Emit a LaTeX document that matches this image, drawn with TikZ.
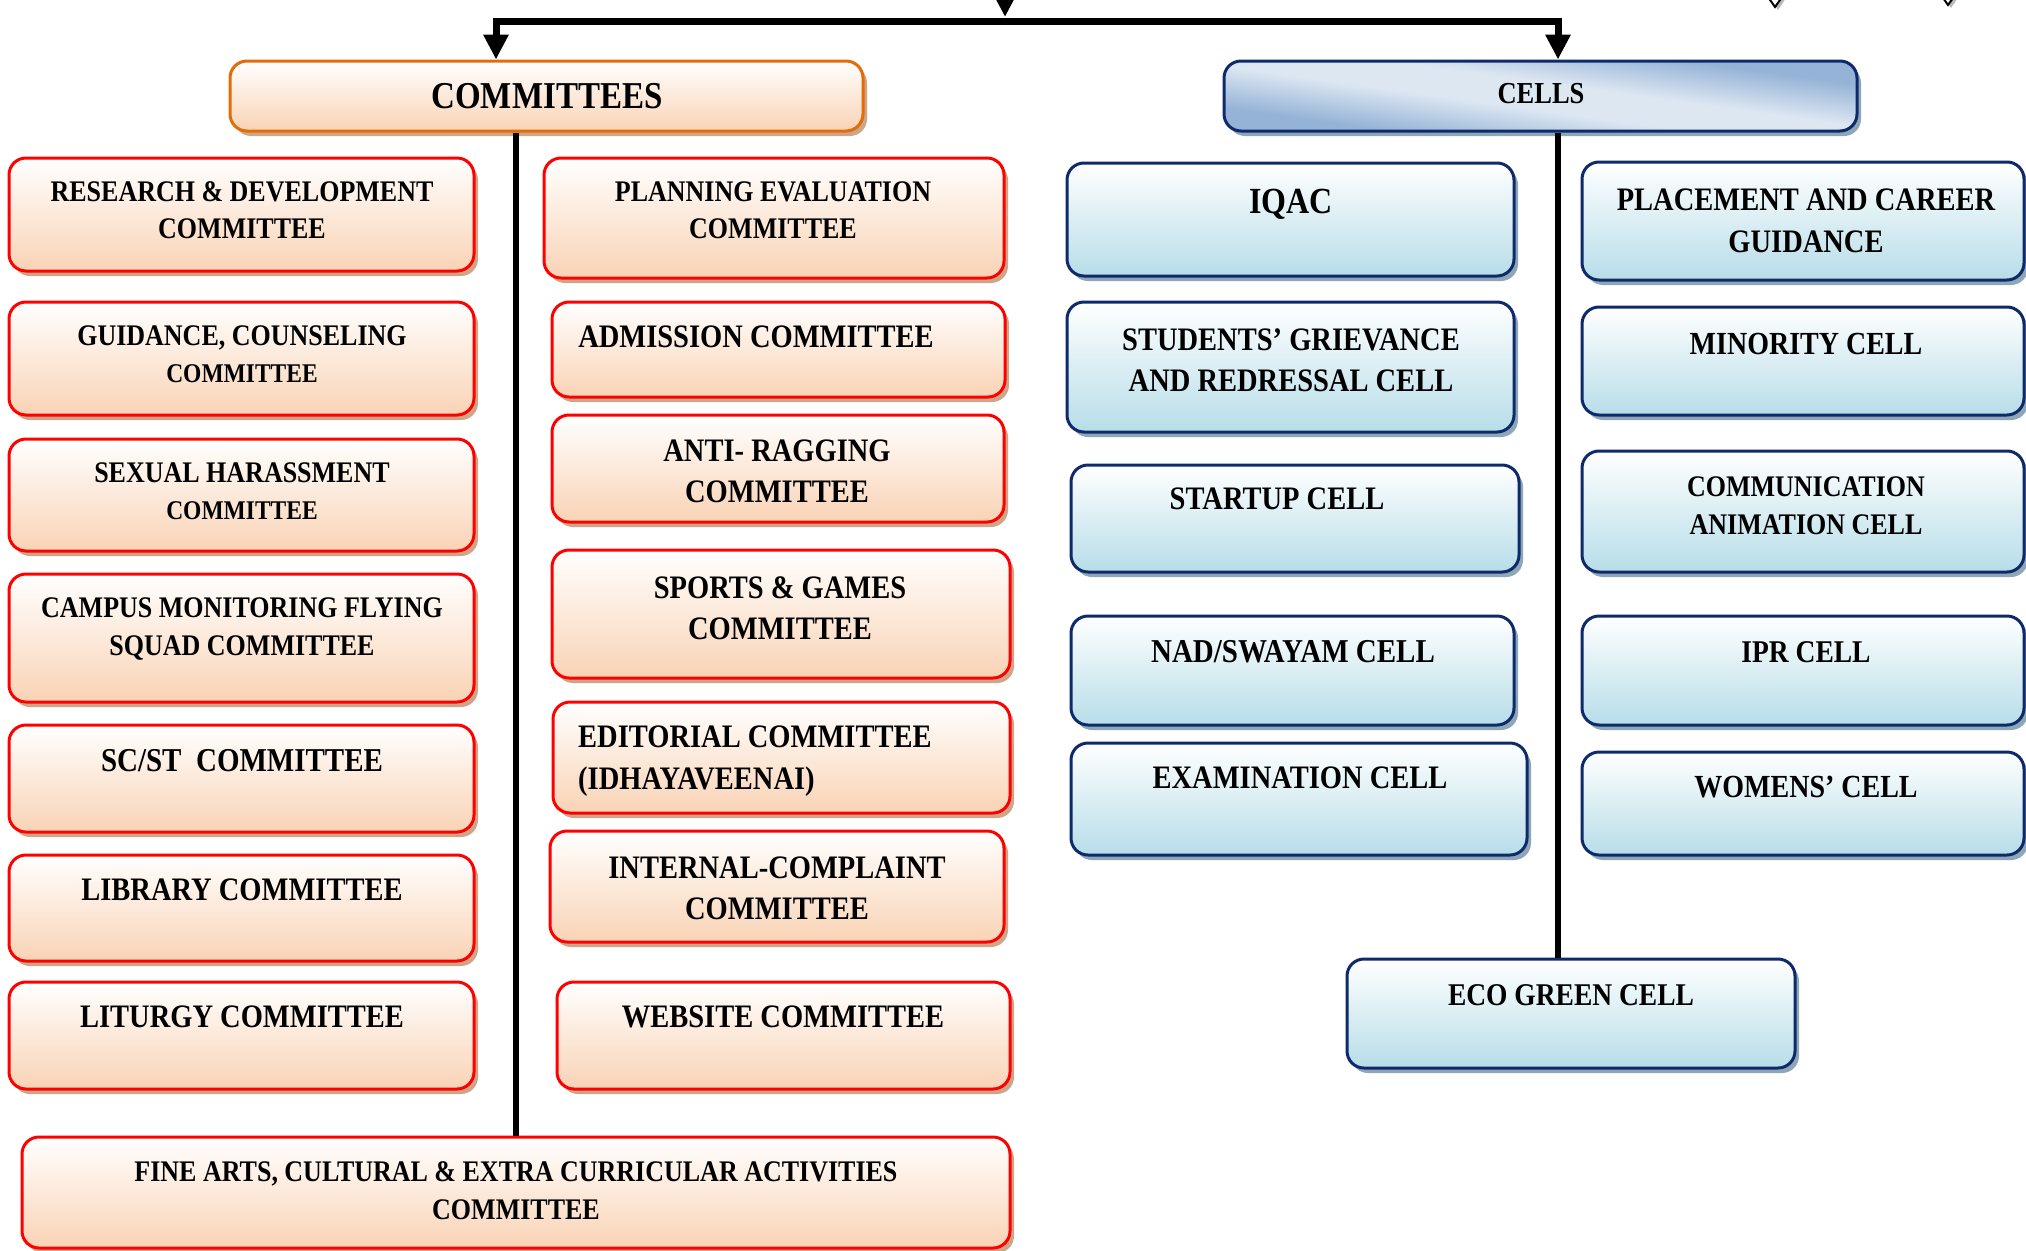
\documentclass[tikz,border=0pt]{standalone}
\usepackage{fontspec}
\setmainfont{Liberation Serif}
\usepackage{graphicx}
\usetikzlibrary{arrows.meta,shadows}
\definecolor{peach}{HTML}{F9D3B5}
\definecolor{comshadow}{HTML}{CDA68A}
\definecolor{comborder}{HTML}{FF0000}
\definecolor{hdrborder}{HTML}{E36C09}
\definecolor{cellbot}{HTML}{B7DDE8}
\definecolor{cellborder}{HTML}{0E2A6B}
\definecolor{cellshadow}{HTML}{8EA7B7}
\definecolor{hdrblue}{HTML}{95B3D7}
\definecolor{hdrlight}{HTML}{DDE7F2}
\pgfdeclareverticalshading{hdrshade}{100bp}{color(0bp)=(hdrblue); color(30bp)=(hdrblue); color(45bp)=(hdrlight); color(55bp)=(hdrlight); color(70bp)=(hdrblue); color(100bp)=(hdrblue)}
\newcommand{\lbl}[4][c]{\fontsize{#2}{#3}\selectfont\bfseries\scalebox{1}[1.15]{\begin{tabular}{@{}#1@{}}#4\end{tabular}}}
\tikzset{
  box/.style={rectangle, rounded corners=17pt, line width=3pt, inner sep=0pt},
  sz/.style 2 args={minimum width=#1pt, minimum height=#2pt},
  combox/.style={box, draw=comborder, top color=white, bottom color=peach,
    drop shadow={shadow xshift=4pt, shadow yshift=-5pt, fill=comshadow, opacity=1}},
  comhdr/.style={box, draw=hdrborder, top color=white, bottom color=peach,
    drop shadow={shadow xshift=4pt, shadow yshift=-5pt, fill=comshadow, opacity=1}},
  cellbox/.style={box, draw=cellborder, top color=white, bottom color=cellbot,
    drop shadow={shadow xshift=4pt, shadow yshift=-5pt, fill=cellshadow, opacity=1}},
  cellhdr/.style={box, draw=cellborder, shading=hdrshade, shading angle=-8,
    drop shadow={shadow xshift=4pt, shadow yshift=-5pt, fill=cellshadow, opacity=1}},
  txt/.style={inner sep=0pt},
  bar/.style={line width=7pt, draw=black},
  vline/.style={line width=6pt, draw=black},
  tip/.style={-{Triangle[length=25pt,width=24pt]}}
}
\begin{document}
\begin{tikzpicture}[x=1pt,y=-1pt]
\useasboundingbox[fill=white] (0,0) rectangle (2026,1250);

% headers
\node[comhdr, sz={633}{70}] (comm) at (546.5,96) {};
\node[txt] (comm-t) at (547,99) {\lbl{33}{40}{COMMITTEES}};
\node[cellhdr, sz={633}{70}] (cells) at (1540.5,96) {};
\node[txt] (cells-t) at (1541,96) {\lbl{26.5}{32}{CELLS}};

% top connectors
\coordinate (topc) at (1005,21);
\coordinate (topin) at (1005,-40);
\draw[bar, tip] (topin) -- ([yshift=4pt]topc);
\draw[bar, tip] (topc) -| ([xshift=-50.5pt]comm.north);
\draw[bar, tip] (topc) -| ([xshift=17.5pt]cells.north);

% cropped arrow fragments at top right
\fill[gray!55] (1766,-8) -- (1778,10) -- (1790,-8) -- cycle;
\draw[line width=2pt, fill=white] (1763,-10) -- (1775,7) -- (1787,-10) -- cycle;
\fill[gray!55] (1939,-10) -- (1951,8) -- (1963,-10) -- cycle;
\draw[line width=2pt, fill=white] (1936,-12) -- (1948,5) -- (1960,-12) -- cycle;

% committees left column
\node[combox, sz={465}{113}] (research) at (241.5,214.5) {};
\node[txt] (research-t) at (242,213) {\lbl{26}{32}{RESEARCH \& DEVELOPMENT\\COMMITTEE}};
\node[combox, sz={465}{113}] (guidance) at (241.5,358.5) {};
\node[txt] (guidance-t) at (242,357) {\lbl{26}{32}{GUIDANCE, COUNSELING\\{\fontsize{23.5}{28}\selectfont COMMITTEE}}};
\node[combox, sz={465}{112}] (sexual) at (241.5,495) {};
\node[txt] (sexual-t) at (242,494) {\lbl{26}{32}{SEXUAL HARASSMENT\\{\fontsize{23.5}{28}\selectfont COMMITTEE}}};
\node[combox, sz={465}{128}] (campus) at (241.5,638) {};
\node[txt] (campus-t) at (242,629) {\lbl{26}{33}{CAMPUS MONITORING FLYING\\SQUAD COMMITTEE}};
\node[combox, sz={465}{107}] (scst) at (241.5,778.5) {};
\node[txt] (scst-t) at (242,764) {\lbl{29}{34}{SC/ST~~COMMITTEE}};
\node[combox, sz={465}{106}] (library) at (241.5,908) {};
\node[txt] (library-t) at (242,893) {\lbl{28.5}{34}{LIBRARY COMMITTEE}};
\node[combox, sz={465}{107}] (liturgy) at (241.5,1035.5) {};
\node[txt] (liturgy-t) at (242,1020) {\lbl{28.5}{34}{LITURGY COMMITTEE}};

% committees middle column
\node[combox, sz={460}{120}] (planning) at (774,218) {};
\node[txt] (planning-t) at (773,213) {\lbl{26}{32}{PLANNING EVALUATION\\COMMITTEE}};
\node[combox, sz={453}{95}] (admission) at (778.5,349.5) {};
\node[txt] (admission-t) at (756,340) {\lbl{28.5}{34}{ADMISSION COMMITTEE}};
\node[combox, sz={452}{107}] (antiragging) at (778,468.5) {};
\node[txt] (antiragging-t) at (777,474) {\lbl{28.5}{36}{ANTI- RAGGING\\COMMITTEE}};
\node[combox, sz={458}{128}] (sports) at (781,614) {};
\node[txt] (sports-t) at (780,611) {\lbl{28.5}{36}{SPORTS \& GAMES\\COMMITTEE}};
\node[combox, sz={457}{111}] (editorial) at (781.5,757.5) {};
\node[txt, anchor=west] (editorial-t) at (578,760) {\lbl[l]{28.5}{37}{EDITORIAL COMMITTEE\\(IDHAYAVEENAI)}};
\node[combox, sz={454}{111}] (internal) at (777,886.5) {};
\node[txt] (internal-t) at (777,891) {\lbl{28.5}{36}{INTERNAL-COMPLAINT\\COMMITTEE}};
\node[combox, sz={453}{107}] (website) at (783.5,1035.5) {};
\node[txt] (website-t) at (783,1020) {\lbl{28.5}{34}{WEBSITE COMMITTEE}};

% fine arts
\node[combox, sz={988}{111}] (finearts) at (516,1192.5) {};
\node[txt] (finearts-t) at (516,1193) {\lbl{26}{33}{FINE ARTS, CULTURAL \& EXTRA CURRICULAR ACTIVITIES\\COMMITTEE}};

% cells column 1
\node[cellbox, sz={447}{113}] (iqac) at (1290.5,219.5) {};
\node[txt] (iqac-t) at (1291,205) {\lbl{32}{38}{IQAC}};
\node[cellbox, sz={447}{130}] (grievance) at (1290.5,367) {};
\node[txt] (grievance-t) at (1291,363) {\lbl{28.5}{36}{STUDENTS’ GRIEVANCE\\AND REDRESSAL CELL}};
\node[cellbox, sz={448}{107}] (startup) at (1295,518.5) {};
\node[txt] (startup-t) at (1277,502) {\lbl{28.5}{34}{STARTUP CELL}};
\node[cellbox, sz={443}{109}] (nad) at (1292.5,670.5) {};
\node[txt] (nad-t) at (1293,655) {\lbl{29}{34}{NAD/SWAYAM CELL}};
\node[cellbox, sz={456}{112}] (exam) at (1299,799) {};
\node[txt] (exam-t) at (1300,781) {\lbl{28.5}{34}{EXAMINATION CELL}};

% cells column 2
\node[cellbox, sz={442}{118}] (placement) at (1803,221) {};
\node[txt] (placement-t) at (1806,223) {\lbl{28.5}{37}{PLACEMENT AND CAREER\\GUIDANCE}};
\node[cellbox, sz={442}{108}] (minority) at (1803,361) {};
\node[txt] (minority-t) at (1806,347) {\lbl{28}{34}{MINORITY CELL}};
\node[cellbox, sz={442}{121}] (communication) at (1803,511.5) {};
\node[txt] (communication-t) at (1806,508) {\lbl{26}{33}{COMMUNICATION\\ANIMATION CELL}};
\node[cellbox, sz={442}{109}] (ipr) at (1803,670.5) {};
\node[txt] (ipr-t) at (1806,655) {\lbl{27.5}{34}{IPR CELL}};
\node[cellbox, sz={442}{103}] (womens) at (1803,803.5) {};
\node[txt] (womens-t) at (1806,790) {\lbl{28}{34}{WOMENS’ CELL}};

% eco green
\node[cellbox, sz={448}{109}] (eco) at (1571,1013.5) {};
\node[txt] (eco-t) at (1571,998) {\lbl{27.5}{34}{ECO GREEN CELL}};

% vertical connectors
\draw[vline] (comm.south -| finearts.north) -- (finearts.north);
\draw[vline] ([xshift=17.5pt]cells.south) -- ([xshift=17.5pt]cells.south |- eco.north);
\end{tikzpicture}
\end{document}
